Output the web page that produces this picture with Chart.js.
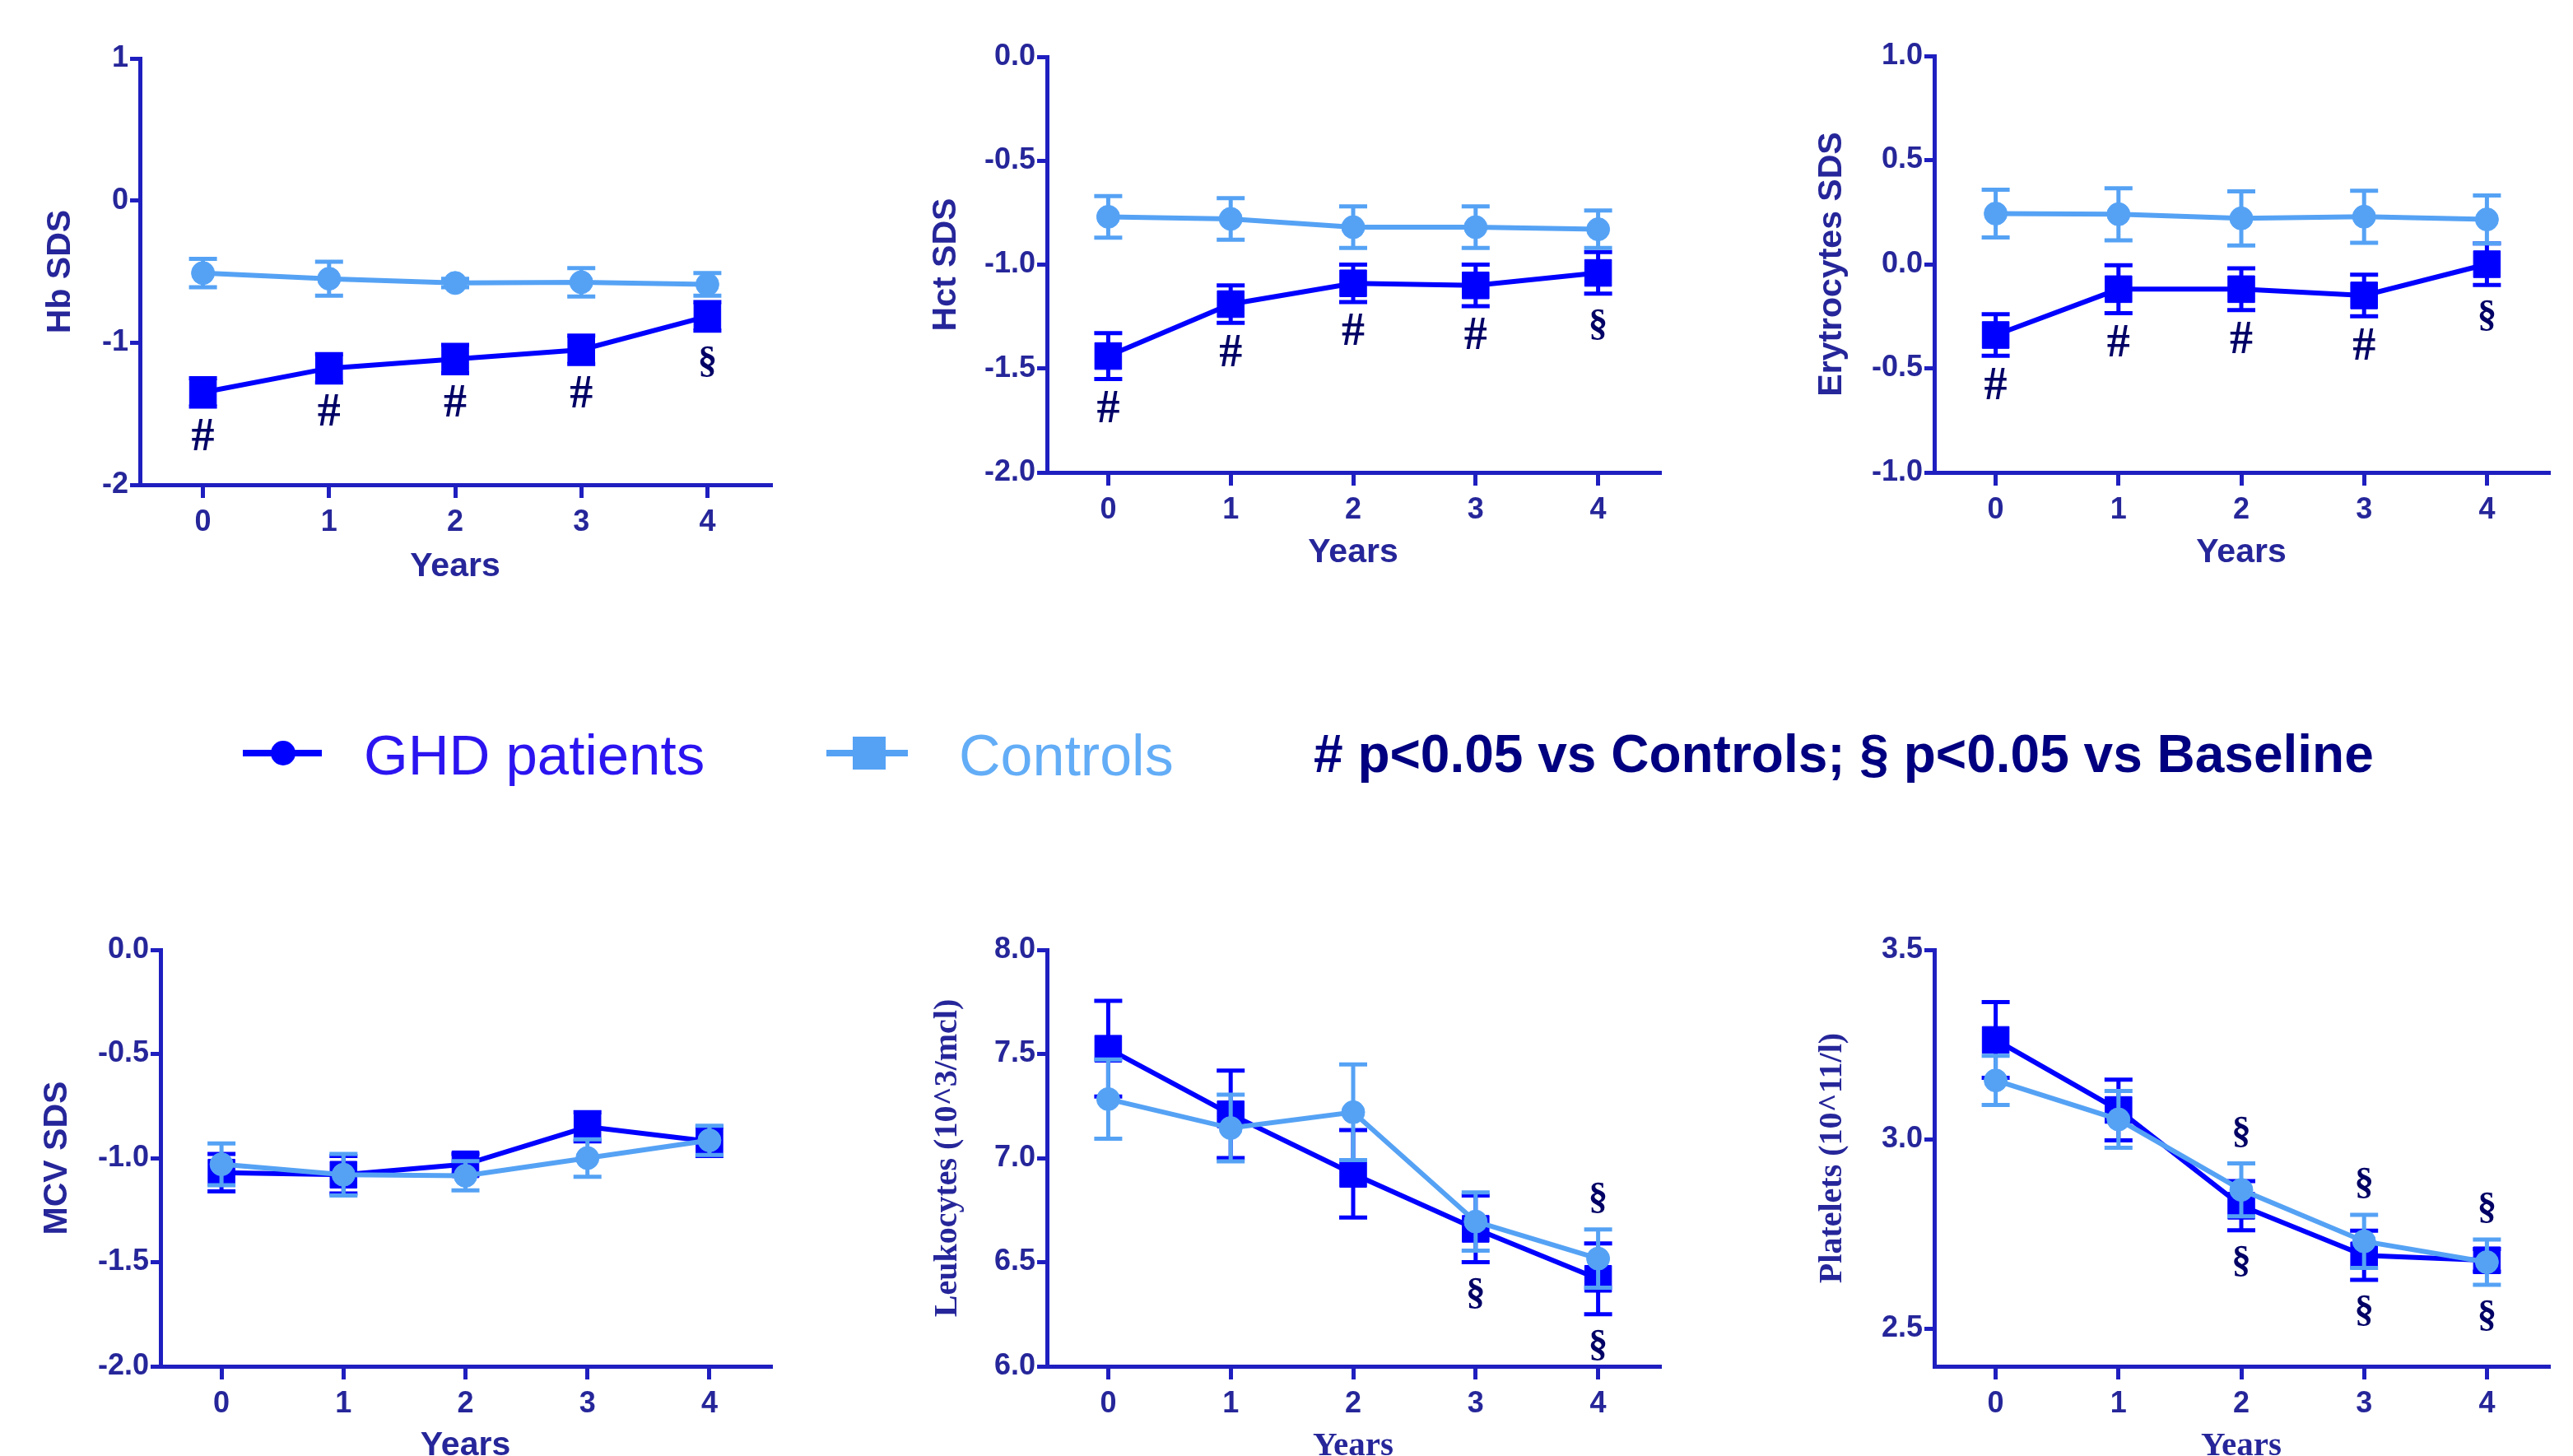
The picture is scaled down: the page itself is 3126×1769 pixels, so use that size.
<!DOCTYPE html>
<html>
<head>
<meta charset="utf-8">
<script src="https://cdn.jsdelivr.net/npm/chart.js@4.4.1/dist/chart.umd.min.js"></script>
<style>
html, body { margin: 0; padding: 0; background: #fff; overflow: hidden; width: 3126px; height: 1769px; }
canvas { position: absolute; }
.leg { position: absolute; white-space: nowrap; font-family: 'Liberation Sans', Arial, sans-serif; line-height: 1; }
.bar { position: absolute; height: 8px; }
</style>
</head>
<body>
<div class="bar" style="left:295px;top:911px;width:96px;background:#0000ff"></div>
<div class="bar" style="left:329px;top:900px;width:30px;height:30px;border-radius:50%;background:#0000ff"></div>
<div class="leg" style="left:442px;top:883px;font-size:69px;color:#2b14f0">GHD patients</div>
<div class="bar" style="left:1004px;top:911px;width:99px;background:#55a2f5"></div>
<div class="bar" style="left:1036px;top:895px;width:40px;height:40px;background:#55a2f5"></div>
<div class="leg" style="left:1165px;top:883px;font-size:70px;color:#63adf7">Controls</div>
<div class="leg" style="left:1596px;top:884px;font-size:64px;font-weight:bold;color:#000080"># p&lt;0.05 vs Controls; § p&lt;0.05 vs Baseline</div>

<script>
const years = [0, 1, 2, 3, 4];

// Hb SDS
const hbGhd = [-1.35, -1.18, -1.115, -1.05, -0.815];
const hbGhdErr = [0.1, 0.1, 0.1, 0.1, 0.1];
const hbCtrl = [-0.51, -0.55, -0.58, -0.575, -0.59];
const hbCtrlErr = [0.1, 0.12, 0.03, 0.1, 0.08];
const hbMarksBelow = ['#', '#', '#', '#', '§'];

// Hct SDS
const hctGhd = [-1.44, -1.19, -1.09, -1.10, -1.04];
const hctGhdErr = [0.11, 0.09, 0.09, 0.1, 0.1];
const hctCtrl = [-0.77, -0.78, -0.82, -0.82, -0.83];
const hctCtrlErr = [0.1, 0.1, 0.1, 0.1, 0.09];
const hctMarksBelow = ['#', '#', '#', '#', '§'];

// Erytrocytes SDS
const eryGhd = [-0.34, -0.12, -0.12, -0.15, 0.0];
const eryGhdErr = [0.1, 0.115, 0.1, 0.1, 0.1];
const eryCtrl = [0.243, 0.24, 0.22, 0.228, 0.215];
const eryCtrlErr = [0.115, 0.125, 0.13, 0.125, 0.115];
const eryMarksBelow = ['#', '#', '#', '#', '§'];

// MCV SDS
const mcvGhd = [-1.07, -1.08, -1.03, -0.85, -0.92];
const mcvGhdErr = [0.09, 0.09, 0.05, 0.07, 0.07];
const mcvCtrl = [-1.03, -1.08, -1.085, -1.0, -0.915];
const mcvCtrlErr = [0.1, 0.1, 0.07, 0.09, 0.07];

// Leukocytes
const leuGhd = [7.525, 7.21, 6.924, 6.66, 6.42];
const leuGhdErr = [0.23, 0.21, 0.21, 0.16, 0.17];
const leuCtrl = [7.283, 7.144, 7.22, 6.695, 6.517];
const leuCtrlErr = [0.19, 0.16, 0.23, 0.14, 0.14];
const leuMarksBelow = ['', '', '', '§', '§'];
const leuMarksAbove = ['', '', '', '', '§'];

// Platelets
const pltGhd = [3.262, 3.077, 2.824, 2.693, 2.68];
const pltGhdErr = [0.1, 0.08, 0.065, 0.065, 0.03];
const pltCtrl = [3.155, 3.052, 2.866, 2.73, 2.675];
const pltCtrlErr = [0.065, 0.075, 0.07, 0.07, 0.06];
const pltMarksBelow = ['', '', '§', '§', '§'];
const pltMarksAbove = ['', '', '§', '§', '§'];

const ghdColor = '#0000ff';
const ctrlColor = '#55a2f5';
const axisColor = '#1f1fc0';
const textColor = '#26269a';
const sans = "'Liberation Sans', Arial, sans-serif";
const serif = "'Liberation Serif', 'Times New Roman', serif";

const panels = [
    { box: [0, 31, 960, 720], plot: [170, 71, 942, 589], yMin: -2, yMax: 1, yTicks: [-2, -1, 0, 1], dec: 0,
      yTitle: 'Hb SDS', yPad: 49, xPad: 7, serif: false,
      ghd: hbGhd, ghdErr: hbGhdErr, ctrl: hbCtrl, ctrlErr: hbCtrlErr, below: hbMarksBelow, above: [] },
    { box: [1080, 29, 2040, 720], plot: [1272, 69, 2022, 574], yMin: -2, yMax: 0, yTicks: [-2, -1.5, -1, -0.5, 0], dec: 1,
      yTitle: 'Hct SDS', yPad: 45, xPad: 24, serif: false,
      ghd: hctGhd, ghdErr: hctGhdErr, ctrl: hctCtrl, ctrlErr: hctCtrlErr, below: hctMarksBelow, above: [] },
    { box: [2150, 28, 3120, 720], plot: [2350, 68, 3103, 574], yMin: -1, yMax: 1, yTicks: [-1, -0.5, 0, 0.5, 1], dec: 1,
      yTitle: 'Erytrocytes SDS', yPad: 51, xPad: 24, serif: false,
      ghd: eryGhd, ghdErr: eryGhdErr, ctrl: eryCtrl, ctrlErr: eryCtrlErr, below: eryMarksBelow, above: [] },
    { box: [0, 1114, 960, 1800], plot: [195, 1154, 945, 1660], yMin: -2, yMax: 0, yTicks: [-2, -1.5, -1, -0.5, 0], dec: 1,
      yTitle: 'MCV SDS', yPad: 45, xPad: 19, serif: false,
      ghd: mcvGhd, ghdErr: mcvGhdErr, ctrl: mcvCtrl, ctrlErr: mcvCtrlErr, below: [], above: [] },
    { box: [1080, 1114, 2040, 1800], plot: [1272, 1154, 2022, 1660], yMin: 6, yMax: 8, yTicks: [6, 6.5, 7, 7.5, 8], dec: 1,
      yTitle: 'Leukocytes (10^3/mcl)', yPad: 48, xPad: 18, serif: true,
      ghd: leuGhd, ghdErr: leuGhdErr, ctrl: leuCtrl, ctrlErr: leuCtrlErr, below: leuMarksBelow, above: leuMarksAbove },
    { box: [2150, 1114, 3120, 1800], plot: [2350, 1154, 3103, 1660], yMin: 2.4, yMax: 3.5, yTicks: [2.5, 3, 3.5], dec: 1,
      yTitle: 'Platelets (10^11/l)', yPad: 53, xPad: 18, serif: true,
      ghd: pltGhd, ghdErr: pltGhdErr, ctrl: pltCtrl, ctrlErr: pltCtrlErr, below: pltMarksBelow, above: pltMarksAbove }
];

const errorBars = {
    id: 'errorBars',
    beforeDatasetDraw(chart, args) {
        const ds = chart.data.datasets[args.index];
        const xs = chart.scales.x, ys = chart.scales.y;
        const ctx = chart.ctx;
        ctx.save();
        ctx.strokeStyle = ds.borderColor;
        ctx.lineWidth = 5;
        ds.data.forEach((pt, i) => {
            const e = ds.errors[i];
            if (!e) return;
            const x = xs.getPixelForValue(pt.x);
            const y1 = ys.getPixelForValue(pt.y + e);
            const y2 = ys.getPixelForValue(pt.y - e);
            ctx.beginPath();
            ctx.moveTo(x, y1); ctx.lineTo(x, y2);
            ctx.moveTo(x - 17, y1); ctx.lineTo(x + 17, y1);
            ctx.moveTo(x - 17, y2); ctx.lineTo(x + 17, y2);
            ctx.stroke();
        });
        ctx.restore();
    }
};

const sigMarks = {
    id: 'sigMarks',
    afterDraw(chart) {
        const p = chart.options.plugins.sigMarks;
        const xs = chart.scales.x, ys = chart.scales.y;
        const ctx = chart.ctx;
        const sets = chart.data.datasets;
        ctx.save();
        ctx.fillStyle = '#000066';
        ctx.textAlign = 'center';
        ctx.textBaseline = 'middle';
        years.forEach((yr, i) => {
            const x = xs.getPixelForValue(yr);
            const b = p.below[i], a = p.above[i];
            if (b) {
                const low = Math.max(...sets.map(d => ys.getPixelForValue(d.data[i].y - d.errors[i])));
                ctx.font = 'bold ' + (b === '#' ? 56 : 47) + 'px ' + serif;
                ctx.fillText(b, x, low + 38);
            }
            if (a) {
                const high = Math.min(...sets.map(d => ys.getPixelForValue(d.data[i].y + d.errors[i])));
                ctx.font = 'bold ' + (a === '#' ? 56 : 47) + 'px ' + serif;
                ctx.fillText(a, x, high - 38);
            }
        });
        ctx.restore();
    }
};

panels.forEach(p => {
    const canvas = document.createElement('canvas');
    const w = p.box[2] - p.box[0], h = p.box[3] - p.box[1];
    canvas.width = w;
    canvas.height = h;
    canvas.style.left = p.box[0] + 'px';
    canvas.style.top = p.box[1] + 'px';
    canvas.style.width = w + 'px';
    canvas.style.height = h + 'px';
    document.body.appendChild(canvas);

    const titleFamily = p.serif ? serif : sans;

    new Chart(canvas.getContext('2d'), {
        type: 'line',
        data: {
            datasets: [{
                label: 'Controls',
                data: years.map((x, i) => ({ x: x, y: p.ctrl[i] })),
                errors: p.ctrlErr,
                borderColor: ctrlColor,
                backgroundColor: ctrlColor,
                borderWidth: 6,
                pointStyle: 'circle',
                pointRadius: 14,
                pointBorderWidth: 1,
                order: 0
            }, {
                label: 'GHD patients',
                data: years.map((x, i) => ({ x: x, y: p.ghd[i] })),
                errors: p.ghdErr,
                borderColor: ghdColor,
                backgroundColor: ghdColor,
                borderWidth: 6,
                pointStyle: 'rect',
                pointRadius: 23,
                pointBorderWidth: 1,
                order: 1
            }]
        },
        options: {
            responsive: false,
            animation: false,
            events: [],
            layout: { padding: { top: p.plot[1] - p.box[1], right: p.box[2] - p.plot[2], left: 0, bottom: 0 } },
            plugins: {
                legend: { display: false },
                tooltip: { enabled: false },
                sigMarks: { below: p.below, above: p.above }
            },
            scales: {
                x: {
                    type: 'linear',
                    min: -0.5,
                    max: 4.5,
                    afterBuildTicks: s => { s.ticks = years.map(v => ({ value: v })); },
                    afterFit: s => { s.height = p.box[3] - p.plot[3]; },
                    border: { display: true, color: axisColor, width: 5 },
                    grid: { display: true, drawOnChartArea: false, drawTicks: true, tickLength: 16, color: axisColor, lineWidth: 5 },
                    ticks: { color: textColor, padding: 8, font: { family: sans, size: 36, weight: 'bold' } },
                    title: { display: true, text: 'Years', color: textColor, padding: p.xPad,
                             font: { family: titleFamily, size: 41, weight: 'bold' } }
                },
                y: {
                    type: 'linear',
                    min: p.yMin,
                    max: p.yMax,
                    afterBuildTicks: s => { s.ticks = p.yTicks.map(v => ({ value: v })); },
                    afterFit: s => { s.width = p.plot[0] - p.box[0]; },
                    border: { display: true, color: axisColor, width: 5 },
                    grid: { display: true, drawOnChartArea: false, drawTicks: true, tickLength: 12, color: axisColor, lineWidth: 5 },
                    ticks: { color: textColor, padding: 2, font: { family: sans, size: 36, weight: 'bold' },
                             callback: v => Number(v).toFixed(p.dec) },
                    title: { display: true, text: p.yTitle, color: textColor, padding: p.yPad,
                             font: { family: titleFamily, size: p.serif ? 40 : 41, weight: 'bold' } }
                }
            }
        },
        plugins: [errorBars, sigMarks]
    });
});
</script>
</body>
</html>
